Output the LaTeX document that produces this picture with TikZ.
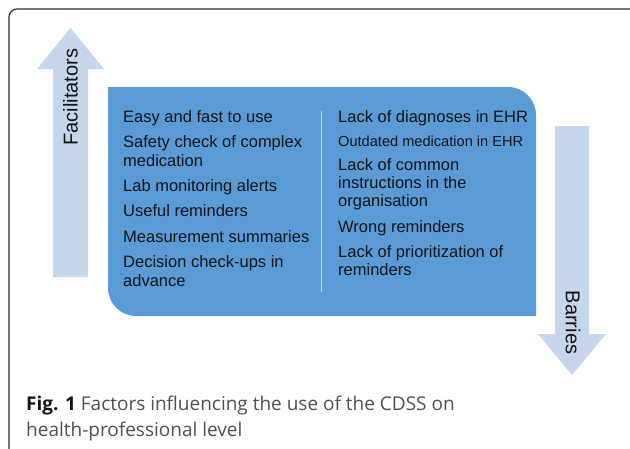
\documentclass[tikz,border=0pt]{standalone}
\usepackage{fontspec}
\setmainfont{Liberation Sans}
\newfontfamily\capfont{Open Sans}
\begin{document}
\begin{tikzpicture}[x=1pt,y=-1pt,
  item/.style={anchor=base west,inner sep=0pt,font=\fontsize{16.5}{18}\selectfont,text=itemtext},
  smallitem/.style={item,font=\fontsize{14.6}{18}\selectfont},
  arrowlabel/.style={inner sep=0pt,font=\fontsize{20}{22}\selectfont,text=itemtext},
  arrowbody/.style={fill=arrowblue,draw=none},
  caption/.style={anchor=base west,inner sep=0pt,font=\capfont\fontsize{19}{26}\selectfont,text=captext},
]
\definecolor{arrowblue}{HTML}{C5D5EA}
\definecolor{panelblue}{HTML}{5B9BD5}
\definecolor{itemtext}{HTML}{141414}
\definecolor{framegray}{HTML}{2E2E2E}
\definecolor{captext}{HTML}{505050}
\definecolor{divider}{HTML}{C9DBF0}
\useasboundingbox (0,0) rectangle (630,448);

% outer frame, running off the right and bottom edges
\draw[framegray,line width=1.2pt,rounded corners=8pt] (9,9) rectangle (650,470);

% facilitators arrow (up) and barriers arrow (down)
\path[arrowbody] (53,277) -- (53,69) -- (37,69) -- (70.5,28) -- (104,69) -- (88,69) -- (88,277) -- cycle;
\path[arrowbody] (555,126) -- (555,334) -- (538,334) -- (572,375) -- (606,334) -- (589,334) -- (589,126) -- cycle;

% blue panel with rounded top-right and bottom-left corners (y axis points down)
\fill[panelblue] (108,87) -- (508,87) arc[start angle=270,end angle=360,radius=28] -- (536,316)
  -- (136,316) arc[start angle=90,end angle=180,radius=28] -- cycle;
\draw[divider,line width=0.8pt] (321,111) -- (321,292);

\node[arrowlabel,rotate=90] (fac) at (70.5,97) {Facilitators};
\node[arrowlabel,rotate=-90] (bar) at (573,322.5) {Barries};

% facilitators
\node[item] (f1)  at (123,122.7) {Easy and fast to use};
\node[item] (f2a) at (123,147.7) {Safety check of complex};
\node[item] (f2b) at (123,166)   {medication};
\node[item] (f3)  at (123,191.7) {Lab monitoring alerts};
\node[item] (f4)  at (123,216.7) {Useful reminders};
\node[item] (f5)  at (123,242.3) {Measurement summaries};
\node[item] (f6a) at (123,267.3) {Decision check-ups in};
\node[item] (f6b) at (123,286.3) {advance};

% barriers
\node[item]      (b1)  at (338,122.7) {Lack of diagnoses in EHR};
\node[smallitem] (b2)  at (338,146.7) {Outdated medication in EHR};
\node[item]      (b3a) at (338,170)   {Lack of common};
\node[item]      (b3b) at (338,188.3) {instructions in the};
\node[item]      (b3c) at (338,206.5) {organisation};
\node[item]      (b4)  at (338,232.5) {Wrong reminders};
\node[item]      (b5a) at (338,257.3) {Lack of prioritization of};
\node[item]      (b5b) at (338,275.7) {reminders};

% caption
\node[caption] (cap1) at (26,410)
  {\textcolor{itemtext}{\bfseries Fig. 1} Factors influencing the use of the CDSS on};
\node[caption] (cap2) at (26,436) {health-professional level};
\end{tikzpicture}
\end{document}
